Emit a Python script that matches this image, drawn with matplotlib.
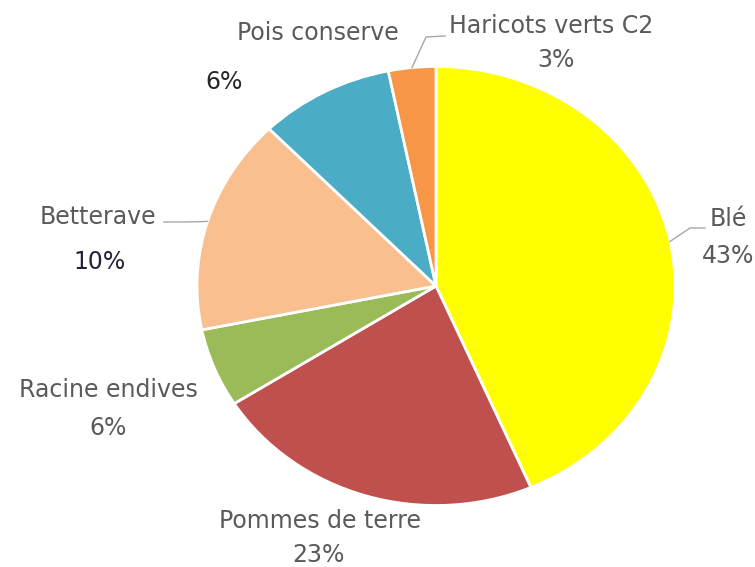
import numpy as np
import matplotlib
matplotlib.use('Agg')
import matplotlib.pyplot as plt

# Données du graphique (tailles des parts)
cultures = ['Blé', 'Pommes de terre', 'Racine endives', 'Betterave', 'Pois conserve', 'Haricots verts C2']
parts = [43.5, 22.5, 5.8, 15.9, 9.1, 3.2]
etiquettes_pct = ['43%', '23%', '6%', '10%', '6%', '3%']
couleurs = ['#FFFF00', '#C0504D', '#9BBB59', '#F9BF8F', '#4BACC6', '#F79646']

# Géométrie en pixels de l'image (centre et rayons de l'ellipse)
W, H = 755, 567
CX, CY, RX, RY = 436, 286, 239, 219.5


def px(x, y):
    # convertit des pixels (origine en haut à gauche) en coordonnées des axes
    return (x - CX) / RX, (CY - y) / RY


fig = plt.figure(figsize=(W / 100, H / 100), dpi=100)
ax = fig.add_axes([0, 0, 1, 1])

wedges, _ = ax.pie(parts, colors=couleurs, startangle=90, counterclock=False,
                   wedgeprops=dict(edgecolor='white', linewidth=2))
ax.set_aspect('auto')
ax.set_xlim(-CX / RX, (W - CX) / RX)
ax.set_ylim((CY - H) / RY, CY / RY)
ax.axis('off')

gris = '#5a5a5a'
fonte = 'DejaVu Sans'
taille = 17

# Positions des étiquettes (nom, pourcentage) en pixels
pos_noms = [(728, 219), (320, 521), (108, 390), (98, 217), (318, 33), (551, 26)]
pos_pct = [(728, 256), (318, 555), (108, 428), (100, 262), (224, 82), (556, 60)]
couleurs_pct = [gris, gris, gris, '#22223a', '#262626', gris]

for i, nom in enumerate(cultures):
    ax.text(*px(*pos_noms[i]), nom, ha='center', va='center', color=gris,
            fontsize=taille, family=fonte)
    ax.text(*px(*pos_pct[i]), etiquettes_pct[i], ha='center', va='center',
            color=couleurs_pct[i], fontsize=taille, family=fonte)

# Traits de rappel pour Blé, Betterave et Haricots
coudes = {0: [(690, 228), (705, 228)],
          3: [(185, 222), (164, 222)],
          5: [(426, 37), (445, 36)]}
for i, pts in coudes.items():
    w = wedges[i]
    ang = np.deg2rad((w.theta1 + w.theta2) / 2)
    xs = [np.cos(ang)] + [px(*p)[0] for p in pts]
    ys = [np.sin(ang)] + [px(*p)[1] for p in pts]
    ax.plot(xs, ys, color='#A6A6A6', linewidth=1)

fig.savefig('out.png', dpi=100)
